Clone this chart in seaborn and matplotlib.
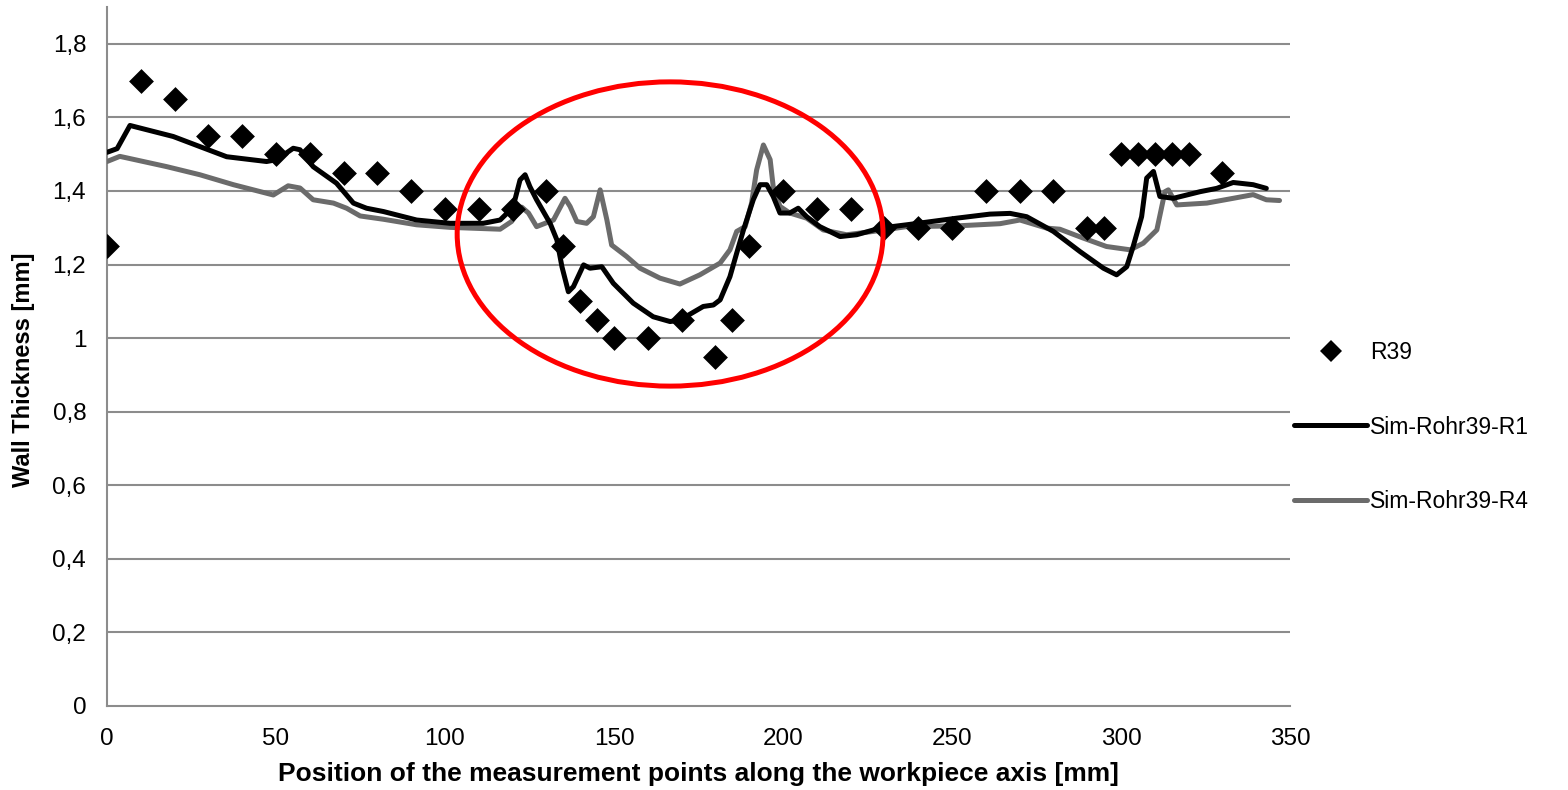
import numpy as np
import pandas as pd
import matplotlib
matplotlib.use("Agg")
import matplotlib.pyplot as plt
from matplotlib.patches import Ellipse
from matplotlib.lines import Line2D
import seaborn as sns

# ---------------- data ----------------
r39_x = [0, 10, 20, 30, 40, 50, 60, 70, 80, 90, 100, 110, 120, 130, 135, 140, 145, 150,
         160, 170, 180, 185, 190, 200, 210, 220, 230, 240, 250, 260, 270, 280, 290, 295,
         300, 305, 310, 315, 320, 330]
r39_y = [1.25, 1.70, 1.65, 1.55, 1.55, 1.50, 1.50, 1.45, 1.45, 1.40, 1.35, 1.35, 1.35, 1.40,
         1.25, 1.10, 1.05, 1.00, 1.00, 1.05, 0.95, 1.05, 1.25, 1.40, 1.35, 1.35, 1.30, 1.30,
         1.30, 1.40, 1.40, 1.40, 1.30, 1.30, 1.50, 1.50, 1.50, 1.50, 1.50, 1.45]

r1_x = [0, 3, 6.8, 19.6, 35.4, 47.2, 50.2, 55.1, 57.1, 61, 67.9, 72.9, 76.8, 81.8, 91.6,
        101.5, 111.3, 116.3, 120.1, 122.2, 123.7, 125.1, 127.1, 131.1, 133.1, 134.6, 136.5,
        138, 141, 142.9, 146.4, 149.8, 155.7, 161.6, 166.6, 169.5, 176.4, 179.4, 181.4,
        184.3, 186.3, 188.3, 191.2, 193.2, 195.2, 197.1, 199.1, 202, 204.5, 207, 210.9,
        216.9, 221.8, 228.7, 236.6, 251.4, 261.2, 267.2, 272.1, 280, 287.9, 294.8, 298.7,
        301.7, 303.6, 306.1, 307.6, 309.6, 311.5, 315.5, 323.4, 328.3, 333.2, 339.1, 343]
r1_y = [1.505, 1.515, 1.578, 1.548, 1.493, 1.480, 1.485, 1.516, 1.512, 1.466, 1.421, 1.367,
        1.353, 1.344, 1.321, 1.312, 1.312, 1.321, 1.355, 1.430, 1.444, 1.412, 1.376, 1.312,
        1.267, 1.194, 1.126, 1.140, 1.199, 1.190, 1.194, 1.149, 1.095, 1.058, 1.045, 1.049,
        1.086, 1.090, 1.104, 1.167, 1.231, 1.294, 1.376, 1.417, 1.417, 1.385, 1.340, 1.340,
        1.353, 1.330, 1.303, 1.276, 1.281, 1.299, 1.308, 1.326, 1.337, 1.339, 1.330, 1.290,
        1.235, 1.190, 1.172, 1.194, 1.249, 1.330, 1.435, 1.453, 1.385, 1.380, 1.398, 1.407,
        1.423, 1.417, 1.407]

r4_x = [0, 3.8, 17.7, 27.5, 37.4, 49.2, 53.6, 57.1, 61, 67, 70.9, 74.9, 81.8, 91.6, 101.5,
        116.3, 119.7, 122.7, 124.7, 127.1, 132.1, 135.5, 137, 139, 141.9, 143.9, 145.9,
        147.9, 149.3, 153.7, 157.7, 163.6, 169.5, 175.4, 181.4, 184.3, 186.3, 188.8, 190.7,
        192.2, 194.2, 196.2, 197.1, 199.1, 202, 207, 211.9, 218.8, 226.7, 236.6, 251.4,
        264.2, 270.1, 278, 281.9, 288.8, 295.7, 302.7, 306.6, 310.6, 313, 314, 316.5, 325.4,
        333.2, 339.1, 343, 346.9]
r4_y = [1.480, 1.494, 1.466, 1.444, 1.417, 1.389, 1.414, 1.408, 1.376, 1.367, 1.353, 1.332,
        1.323, 1.308, 1.301, 1.296, 1.317, 1.356, 1.340, 1.303, 1.321, 1.380, 1.358, 1.317,
        1.312, 1.330, 1.403, 1.321, 1.253, 1.222, 1.190, 1.163, 1.147, 1.172, 1.204, 1.240,
        1.290, 1.303, 1.367, 1.457, 1.525, 1.485, 1.412, 1.358, 1.340, 1.326, 1.294, 1.281,
        1.290, 1.303, 1.305, 1.311, 1.321, 1.299, 1.296, 1.272, 1.249, 1.240, 1.258, 1.294,
        1.398, 1.403, 1.362, 1.367, 1.380, 1.390, 1.376, 1.374]

y_ticks = [0, 0.2, 0.4, 0.6, 0.8, 1.0, 1.2, 1.4, 1.6, 1.8]
y_tick_labels = ["0", "0,2", "0,4", "0,6", "0,8", "1", "1,2", "1,4", "1,6", "1,8"]
x_ticks = [0, 50, 100, 150, 200, 250, 300, 350]
x_tick_labels = ["0", "50", "100", "150", "200", "250", "300", "350"]

series_names = ["R39", "Sim-Rohr39-R1", "Sim-Rohr39-R4"]
x_label = "Position of the measurement points along the workpiece axis [mm]"
y_label = "Wall Thickness [mm]"

# ---------------- style ----------------
sns.set_theme(style="white")
plt.rcParams["font.family"] = ["Liberation Sans", "DejaVu Sans"]
plt.rcParams["text.color"] = "black"
plt.rcParams["axes.labelcolor"] = "black"

fig = plt.figure(figsize=(15.68, 7.90), dpi=100)
ax = fig.add_axes([107 / 1568, 84 / 790, (1290 - 107) / 1568, (706 - 7) / 790])

grid_col = "#8c8c8c"
for yv in y_ticks[1:]:
    ax.axhline(yv, color=grid_col, lw=1.5, zorder=0)

df_meas = pd.DataFrame({"x": r39_x, "y": r39_y})
df_r1 = pd.DataFrame({"x": r1_x, "y": r1_y})
df_r4 = pd.DataFrame({"x": r4_x, "y": r4_y})

sns.lineplot(data=df_r4, x="x", y="y", ax=ax, color="#6b6b6b", lw=3.6, sort=False,
             estimator=None, zorder=3, solid_joinstyle="round", solid_capstyle="round")
sns.lineplot(data=df_r1, x="x", y="y", ax=ax, color="black", lw=3.6, sort=False,
             estimator=None, zorder=4, solid_joinstyle="round", solid_capstyle="round")
sns.scatterplot(data=df_meas, x="x", y="y", ax=ax, marker="D", s=160, color="black",
                linewidth=0, zorder=5)

ell = Ellipse((166.6, 1.283), width=126, height=0.827, fill=False, edgecolor="#ff0000",
              lw=3.6, zorder=6)
ax.add_patch(ell)

ax.set_xlim(0, 350)
ax.set_ylim(0, 1.9)
ax.set_xticks(x_ticks)
ax.set_xticklabels(x_tick_labels)
ax.set_yticks(y_ticks)
ax.set_yticklabels(y_tick_labels)

for s in ["top", "right"]:
    ax.spines[s].set_visible(False)
for s in ["left", "bottom"]:
    ax.spines[s].set_color(grid_col)
    ax.spines[s].set_linewidth(1.5)

ax.tick_params(axis="both", which="major", direction="out", length=7, width=1.5,
               color=grid_col, labelsize=17.5, labelcolor="black", pad=8)
ax.tick_params(axis="x", pad=9)

ax.set_xlabel(x_label, fontsize=19, fontweight="bold", labelpad=8.5, color="black")
ax.set_ylabel(y_label, fontsize=17, fontweight="bold", color="black")
ax.yaxis.set_label_coords(-0.061, 0.481)

handles = [
    Line2D([], [], marker="D", color="black", linestyle="none", markersize=11,
           markeredgewidth=0),
    Line2D([], [], color="black", lw=3.6),
    Line2D([], [], color="#6b6b6b", lw=3.6),
]
leg = fig.legend(handles, series_names, loc="center left",
                 bbox_to_anchor=(1294 / 1568, 1 - 427 / 790), frameon=False, fontsize=16.5,
                 handlelength=3.2, handletextpad=0.1, labelspacing=2.25, borderpad=0,
                 borderaxespad=0)
for t in leg.get_texts():
    t.set_color("black")

fig.savefig("out.png", dpi=100)
